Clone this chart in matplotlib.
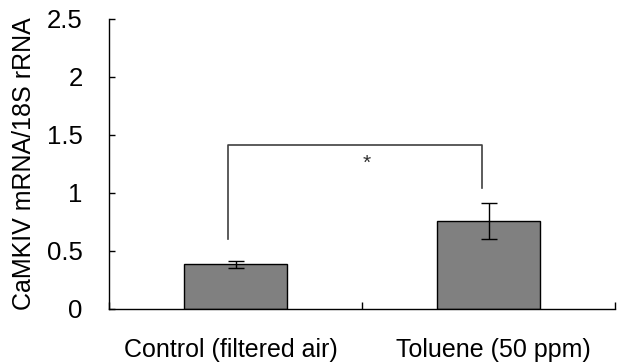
import matplotlib
matplotlib.use("Agg")
import matplotlib.pyplot as plt
import numpy as np

plt.rcParams['font.family'] = ['Liberation Sans', 'DejaVu Sans']

categories = ["Control (filtered air)", "Toluene (50 ppm)"]
means = [0.385, 0.755]
errors = [0.03, 0.155]
y_ticks = [0, 0.5, 1, 1.5, 2, 2.5]
y_tick_labels = ["0", "0.5", "1", "1.5", "2", "2.5"]
bracket_y = 1.41
bracket_left_bottom = 0.60
bracket_right_bottom = 1.04
sig_label = "*"

fig = plt.figure(figsize=(6.23, 3.64), dpi=100)
ax = fig.add_axes([109/623, 1 - 309/364, (615-109)/623, (309-19)/364])

x = np.arange(len(categories))
ax.bar(x, means, width=0.41, color="#808080", edgecolor="black", linewidth=1.0, zorder=2)
ax.errorbar(x, means, yerr=errors, fmt="none", ecolor="black", elinewidth=1.0,
            capsize=6, capthick=1.0, zorder=3)

# significance bracket
bx0, bx1 = -0.03, 0.975
ax.plot([bx0, bx0, bx1, bx1],
        [bracket_left_bottom, bracket_y, bracket_y, bracket_right_bottom],
        color="#404040", linewidth=1.2, zorder=1)
ax.text(0.517, 1.255, sig_label, ha="center", va="center", fontsize=15, color="#303030")

ax.set_xlim(-0.5, 1.5)
ax.set_ylim(0, 2.5)
ax.spines["top"].set_visible(False)
ax.spines["right"].set_visible(False)
for s in ("left", "bottom"):
    ax.spines[s].set_linewidth(1.0)

ax.set_yticks(y_ticks)
ax.set_yticklabels(y_tick_labels, fontsize=18.5)
ax.tick_params(axis="y", direction="in", length=4, width=1.0, pad=19)

# category labels sit between inward ticks at the group borders
ax.set_xticks([-0.5, 0.5, 1.5])
ax.set_xticklabels([])
ax.tick_params(axis="x", direction="in", length=5, width=1.0)
label_offsets = [-0.02, 0.02]
for xi, dx, lab in zip(x, label_offsets, categories):
    ax.text(xi + dx, -0.414, lab, ha="center", va="baseline", fontsize=18)

ax.set_ylabel("CaMKIV mRNA/18S rRNA", fontsize=18)
ax.yaxis.set_label_coords(-(109 - 24) / (615 - 109), 0.5)
ax.yaxis.label.set_va("center")

fig.savefig("out.png", dpi=100)
